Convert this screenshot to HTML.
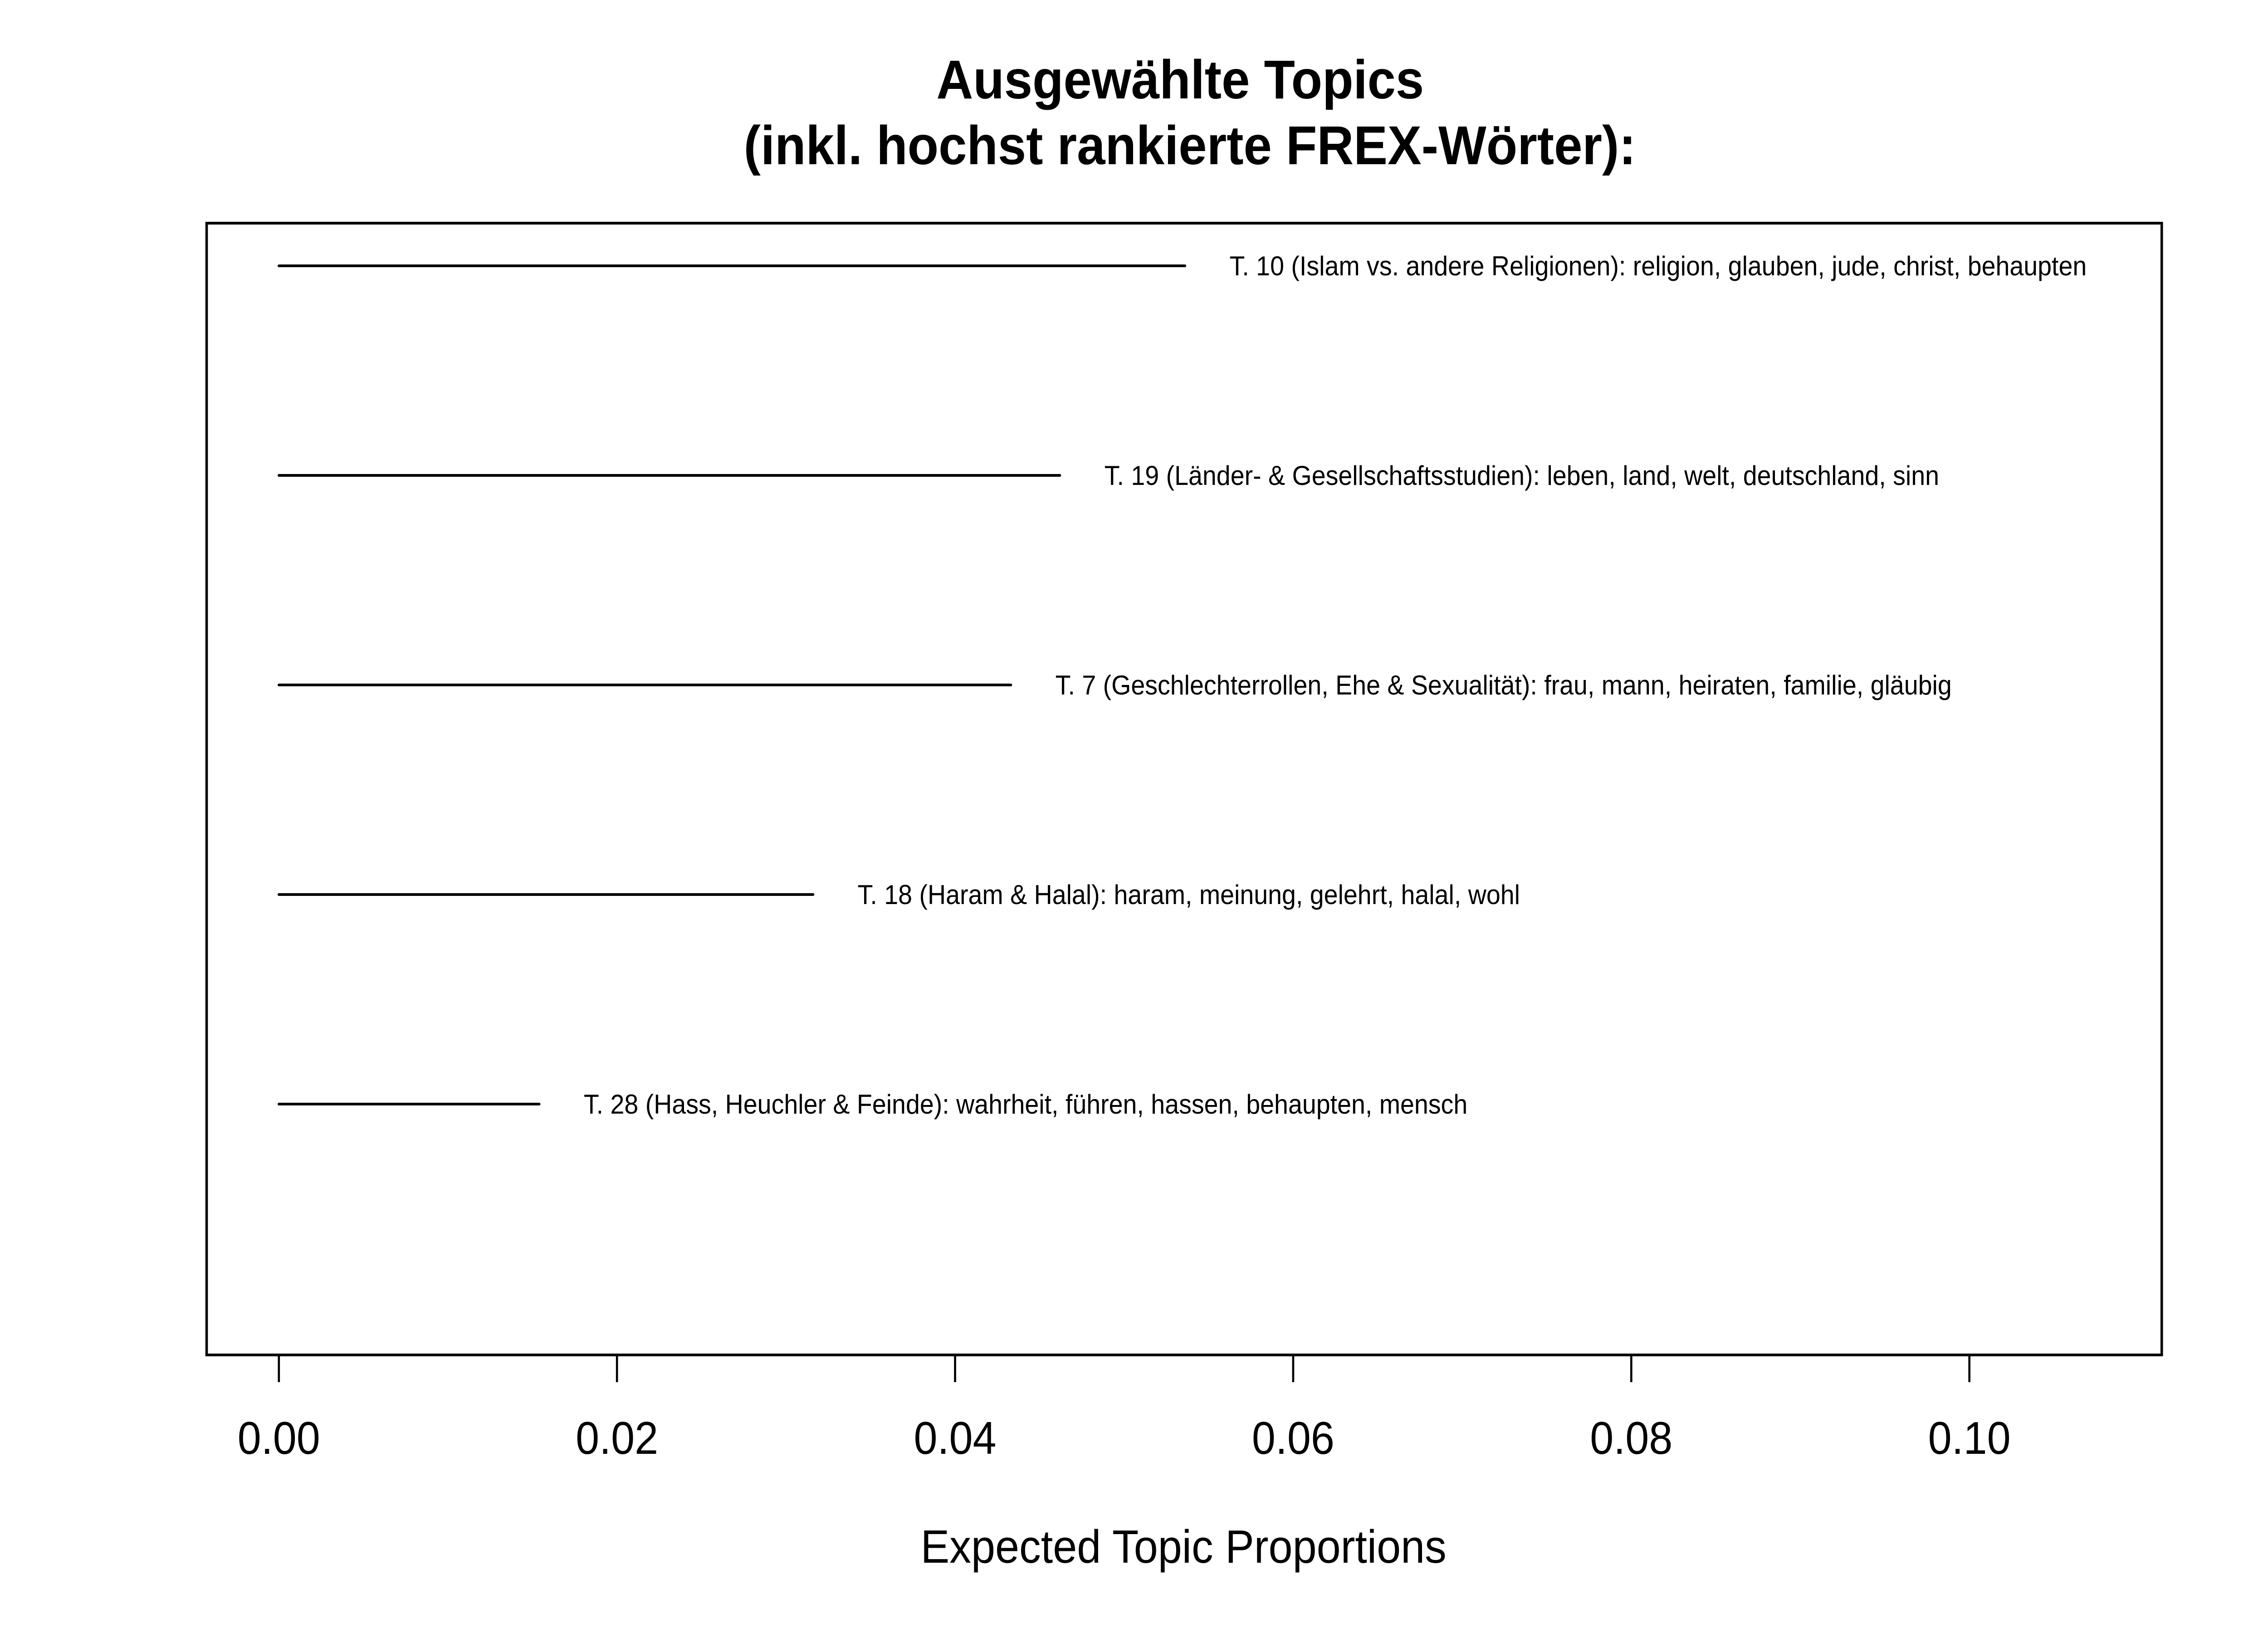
<!DOCTYPE html>
<html><head><meta charset="utf-8"><style>
html,body{margin:0;padding:0;background:#fff;width:100%;height:100%;overflow:hidden;}
svg{display:block;width:100vw;height:100vh;font-family:"Liberation Sans",Arial,sans-serif;}
</style></head><body>
<svg id="chart" viewBox="0 0 5400 3600" preserveAspectRatio="none" xmlns="http://www.w3.org/2000/svg">
<rect width="5400" height="3600" fill="#fff"/>
<text x="2810" y="217" text-anchor="middle" font-weight="bold" font-size="121">Ausgewählte Topics</text>
<text x="2833" y="362" text-anchor="middle" font-weight="bold" font-size="121">(inkl. hochst rankierte FREX-Wörter):</text>
<rect x="492" y="492" width="4655" height="2495" fill="none" stroke="#000" stroke-width="6"/>
<g id="marks"></g>
<g id="xaxis"></g>
<text x="2818" y="3445" text-anchor="middle" font-size="103">Expected Topic Proportions</text>
</svg>
<script>
const topicLabels = [
  "T. 10 (Islam vs. andere Religionen): religion, glauben, jude, christ, behaupten",
  "T. 19 (Länder- & Gesellschaftsstudien): leben, land, welt, deutschland, sinn",
  "T. 7 (Geschlechterrollen, Ehe & Sexualität): frau, mann, heiraten, familie, gläubig",
  "T. 18 (Haram & Halal): haram, meinung, gelehrt, halal, wohl",
  "T. 28 (Hass, Heuchler & Feinde): wahrheit, führen, hassen, behaupten, mensch"
];
const proportions = [0.0536, 0.0462, 0.0433, 0.0316, 0.0154];
const tickValues = [0, 0.02, 0.04, 0.06, 0.08, 0.10];
const tickLabels = ["0.00", "0.02", "0.04", "0.06", "0.08", "0.10"];

const NS = "http://www.w3.org/2000/svg";
function xScale(v){ return 664 + v * 40250; }
function yScale(i){ return 586 + i * 462; }

const marks = document.getElementById('marks');
proportions.forEach(function(v, i){
  const y = yScale(i);
  const ln = document.createElementNS(NS, 'line');
  ln.setAttribute('x1', xScale(0)); ln.setAttribute('x2', xScale(v));
  ln.setAttribute('y1', y); ln.setAttribute('y2', y);
  ln.setAttribute('stroke', '#000'); ln.setAttribute('stroke-width', '6');
  ln.setAttribute('stroke-linecap', 'round');
  
  
  marks.appendChild(ln);
  const t = document.createElementNS(NS, 'text');
  t.setAttribute('x', xScale(v) + 106);
  t.setAttribute('y', y + 21);
  t.setAttribute('font-size', '60');
  t.textContent = topicLabels[i];
  
  
  marks.appendChild(t);
});

const xaxis = document.getElementById('xaxis');
tickValues.forEach(function(v, i){
  const x = xScale(v);
  const tk = document.createElementNS(NS, 'line');
  tk.setAttribute('x1', x); tk.setAttribute('x2', x);
  tk.setAttribute('y1', 2987); tk.setAttribute('y2', 3047);
  tk.setAttribute('stroke', '#000'); tk.setAttribute('stroke-width', '5');
  
  
  xaxis.appendChild(tk);
  const lb = document.createElementNS(NS, 'text');
  lb.setAttribute('x', x); lb.setAttribute('y', 3205);
  lb.setAttribute('text-anchor', 'middle'); lb.setAttribute('font-size', '101');
  lb.textContent = tickLabels[i];
  
  
  xaxis.appendChild(lb);
});
</script>
</body></html>
